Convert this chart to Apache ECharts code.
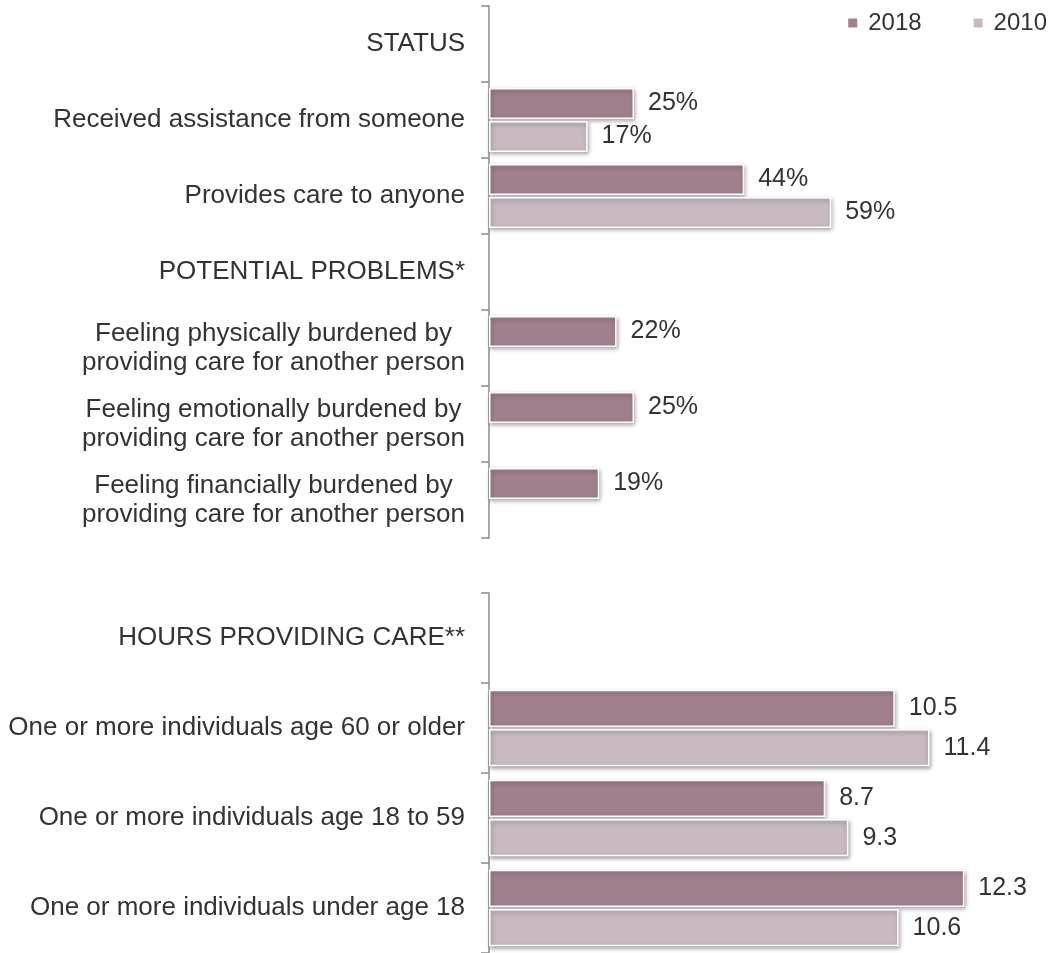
<!DOCTYPE html>
<html>
<head>
<meta charset="utf-8">
<script src="https://cdn.jsdelivr.net/npm/echarts@6/dist/echarts.min.js"></script>
<style>
html,body{margin:0;padding:0;background:#fff;}
#chart{width:1052px;height:953px;}
</style>
</head>
<body>
<div id="chart"></div>
<script>
var topCategories = [
  'STATUS',
  'Received assistance from someone',
  'Provides care to anyone',
  'POTENTIAL PROBLEMS*',
  'Feeling physically burdened by\nproviding care for another person',
  'Feeling emotionally burdened by\nproviding care for another person',
  'Feeling financially burdened by\nproviding care for another person'
];
var top2018 = [null, 25, 44, null, 22, 25, 19];
var top2010 = [null, 17, 59, null, null, null, null];

var bottomCategories = [
  'HOURS PROVIDING CARE**',
  'One or more individuals age 60 or older',
  'One or more individuals age 18 to 59',
  'One or more individuals under age 18'
];
var bottom2018 = [null, 10.5, 8.7, 12.3];
var bottom2010 = [null, 11.4, 9.3, 10.6];

var seriesNames = ['2018', '2010'];
var colors = ['#a0808f', '#c8b9c3'];

var FONT = "'Liberation Sans', Arial, sans-serif";
var TXT = '#333333';

var chart = echarts.init(document.getElementById('chart'));

function catLabelFormatter(v) {
  return v.split('\n').map(function (l) { return '{c|' + l + '}'; }).join('\n');
}

function catAxis(gridIndex, data) {
  return {
    type: 'category',
    gridIndex: gridIndex,
    inverse: true,
    data: data,
    axisLine: { show: true, lineStyle: { color: '#8c8c8c', width: 1.5 } },
    axisTick: { show: true, length: 8, inside: false, lineStyle: { color: '#8c8c8c', width: 1.5 } },
    axisLabel: {
      margin: 24,
      align: 'right',
      formatter: catLabelFormatter,
      rich: {
        c: { align: 'center', fontSize: 26, fontFamily: FONT, color: TXT, lineHeight: 29 }
      }
    },
    splitLine: { show: false }
  };
}

function valAxis(gridIndex, max) {
  return {
    type: 'value',
    gridIndex: gridIndex,
    min: 0,
    max: max,
    show: false,
    splitLine: { show: false }
  };
}

function barSeries(name, idx, gridIndex, data, fmt, catGap) {
  return {
    name: name,
    type: 'bar',
    xAxisIndex: gridIndex,
    yAxisIndex: gridIndex,
    data: data,
    barGap: '6%',
    barCategoryGap: catGap,
    itemStyle: {
      color: colors[idx],
      borderColor: '#ffffff',
      borderWidth: 1.5,
      shadowColor: 'rgba(0,0,0,0.35)',
      shadowBlur: 4,
      shadowOffsetX: 1,
      shadowOffsetY: 2
    },
    label: {
      show: true,
      position: 'right',
      distance: 14,
      fontSize: 25,
      fontFamily: FONT,
      color: TXT,
      formatter: fmt
    },
    emphasis: { disabled: true },
    animation: false
  };
}

var option = {
  backgroundColor: '#ffffff',
  animation: false,
  legend: {
    data: seriesNames,
    right: 0,
    top: 6,
    icon: 'rect',
    itemWidth: 11,
    itemHeight: 11,
    itemGap: 50,
    textStyle: { fontSize: 24, fontFamily: FONT, color: TXT, padding: [0, 0, 0, 5] }
  },
  grid: [
    { left: 489, width: 551, top: 6, height: 532 },
    { left: 489, width: 541, top: 593, height: 360 }
  ],
  yAxis: [
    catAxis(0, topCategories),
    catAxis(1, bottomCategories)
  ],
  xAxis: [
    valAxis(0, 95),
    valAxis(1, 14)
  ],
  series: [
    barSeries(seriesNames[0], 0, 0, top2018, function (p) { return p.value + '%'; }, '16%'),
    barSeries(seriesNames[1], 1, 0, top2010, function (p) { return p.value + '%'; }, '16%'),
    barSeries(seriesNames[0], 0, 1, bottom2018, function (p) { return p.value.toFixed(1); }, '15%'),
    barSeries(seriesNames[1], 1, 1, bottom2010, function (p) { return p.value.toFixed(1); }, '15%')
  ]
};

chart.setOption(option);
</script>
</body>
</html>
